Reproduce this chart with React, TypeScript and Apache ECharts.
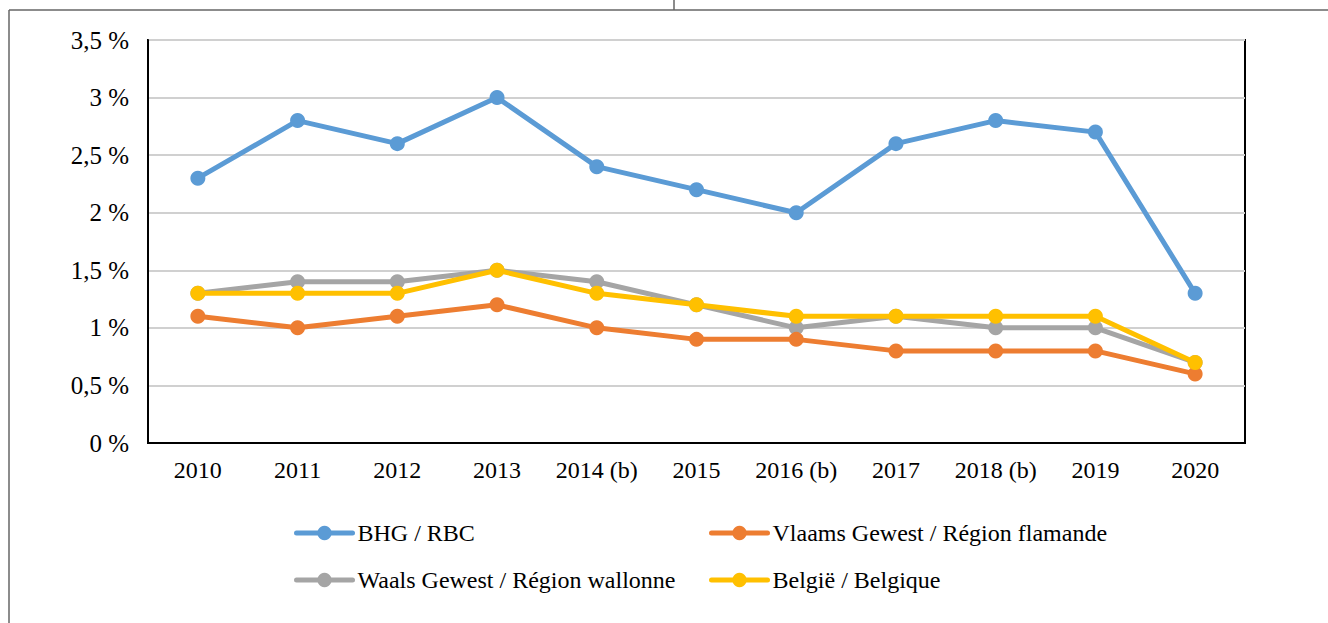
import React, { useEffect, useRef } from "react";
import * as echarts from "echarts";

const categories = ["2010", "2011", "2012", "2013", "2014 (b)", "2015", "2016 (b)", "2017", "2018 (b)", "2019", "2020"];
const bhg = [2.3, 2.8, 2.6, 3.0, 2.4, 2.2, 2.0, 2.6, 2.8, 2.7, 1.3];
const vlaams = [1.1, 1.0, 1.1, 1.2, 1.0, 0.9, 0.9, 0.8, 0.8, 0.8, 0.6];
const waals = [1.3, 1.4, 1.4, 1.5, 1.4, 1.2, 1.0, 1.1, 1.0, 1.0, 0.7];
const belgie = [1.3, 1.3, 1.3, 1.5, 1.3, 1.2, 1.1, 1.1, 1.1, 1.1, 0.7];
const seriesNames = [
  "BHG / RBC",
  "Vlaams Gewest / Région flamande",
  "Waals Gewest / Région wallonne",
  "België / Belgique",
];
const colors = ["#5B9BD5", "#ED7D31", "#A5A5A5", "#FFC000"];

const FONT = "'Liberation Serif', 'Times New Roman', serif";

export default function App() {
  const ref = useRef<HTMLDivElement>(null);
  useEffect(() => {
    if (!ref.current) return;
    const chart = echarts.init(ref.current, undefined, { renderer: "svg" });
    const dataSets = [bhg, vlaams, waals, belgie];
    const legendPos = [
      { left: 289, top: 516 },
      { left: 704, top: 516 },
      { left: 289, top: 563 },
      { left: 704, top: 563 },
    ];
    chart.setOption({
      animation: false,
      backgroundColor: "#fff",
      color: colors,
      grid: {
        left: 148,
        right: 83,
        top: 40,
        bottom: 180,
        show: true,
        borderColor: "#000",
        borderWidth: 2,
        containLabel: false,
      },
      legend: seriesNames.map((n, i) => ({
        data: [n],
        left: legendPos[i].left,
        top: legendPos[i].top,
        itemWidth: 56,
        itemHeight: 18,
        itemGap: 4,
        lineStyle: { width: 5, cap: "round" },
        textStyle: { fontFamily: FONT, fontSize: 24, color: "#000" },
      })),
      xAxis: {
        type: "category",
        data: categories,
        boundaryGap: true,
        axisLine: { lineStyle: { color: "#000", width: 2 } },
        axisTick: { show: false },
        axisLabel: { fontFamily: FONT, fontSize: 24, color: "#000", margin: 15, interval: 0 },
      },
      yAxis: {
        type: "value",
        min: 0,
        max: 3.5,
        interval: 0.5,
        axisLine: { show: true, lineStyle: { color: "#000", width: 2 } },
        axisTick: { show: false },
        splitLine: { lineStyle: { color: "#D0D0D0", width: 2 } },
        axisLabel: {
          fontFamily: FONT,
          fontSize: 25,
          color: "#000",
          margin: 19,
          formatter: (v: number) => String(v).replace(".", ",") + " %",
        },
      },
      series: dataSets.map((d, i) => ({
        name: seriesNames[i],
        type: "line",
        data: d,
        symbol: "circle",
        symbolSize: 15,
        lineStyle: { width: 5, color: colors[i], cap: "round", join: "round" },
        itemStyle: { color: colors[i] },
        z: i === 1 ? 2 : i === 2 ? 1 : i === 3 ? 3 : 4,
      })),
      graphic: [
        { type: "line", shape: { x1: 9, y1: 10, x2: 1328, y2: 10 }, style: { stroke: "#666", lineWidth: 1.5 } },
        { type: "line", shape: { x1: 9, y1: 10, x2: 9, y2: 623 }, style: { stroke: "#666", lineWidth: 1.5 } },
        { type: "line", shape: { x1: 674, y1: 0, x2: 674, y2: 10 }, style: { stroke: "#666", lineWidth: 1.5 } },
      ],
    });
    return () => chart.dispose();
  }, []);
  return (
    <div
      ref={ref}
      style={{ position: "fixed", left: 0, top: 0, width: 1328, height: 623 }}
    />
  );
}
